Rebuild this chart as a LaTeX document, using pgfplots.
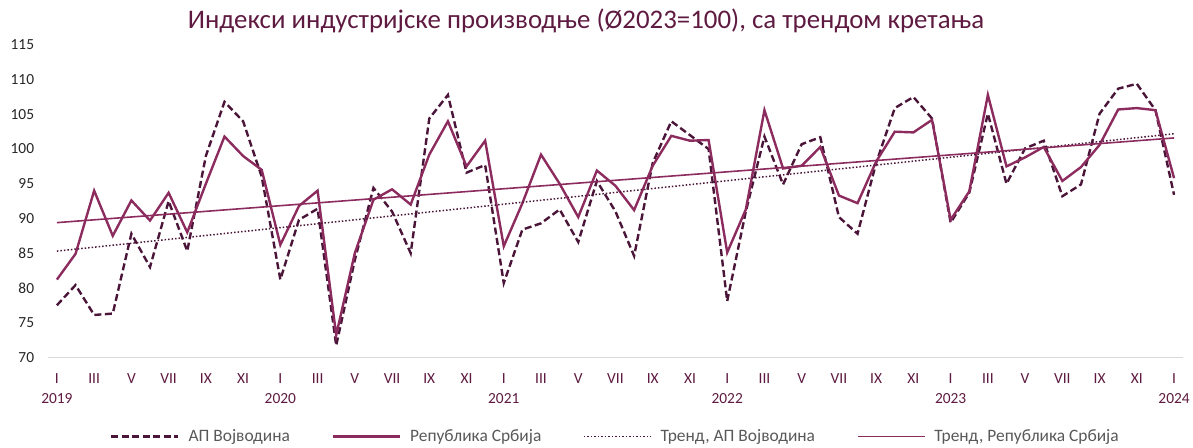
\documentclass[border=0pt]{standalone}
\usepackage{pgfplots}
\pgfplotsset{compat=1.18}
\usepackage{fontspec}
\setmainfont{Carlito}
\definecolor{vojc}{HTML}{4A1538}
\definecolor{srbc}{HTML}{8C2B5E}
\definecolor{titc}{HTML}{5E1A40}
\definecolor{xlab}{HTML}{5E1A40}
\definecolor{legt}{HTML}{595959}
\definecolor{axl}{HTML}{D9D9D9}
\begin{document}
\begin{tikzpicture}
\begin{axis}[
  scale only axis, width=1138bp, height=313bp,
  xmin=-0.5, xmax=60.5, ymin=70, ymax=115,
  clip=false,
  axis x line*=bottom, axis y line*=left,
  x axis line style={-, draw=axl, line width=1.5bp},
  y axis line style={draw=none},
  major tick length=0,
  ytick={70,75,...,115},
  xtick={0,2,...,60},
  xticklabels={{I\\2019},III,V,VII,IX,XI,{I\\2020},III,V,VII,IX,XI,{I\\2021},III,V,VII,IX,XI,{I\\2022},III,V,VII,IX,XI,{I\\2023},III,V,VII,IX,XI,{I\\2024}},
  xticklabel style={align=center, text=xlab, font=\fontsize{15.5}{20}\selectfont, yshift=-13bp},
  yticklabel style={text=black!85, font=\fontsize{15.5}{18}\selectfont, xshift=-10bp},
  /pgf/number format/assume math mode=true,
  legend columns=4,
  legend style={draw=none, at={(0.5,-0.254)}, anchor=center, font=\fontsize{17.5}{20}\selectfont, text=legt,
    /tikz/every even column/.append style={column sep=40bp}},
  legend image code/.code={\draw[#1] (0bp,0bp) -- (67bp,0bp); \path (74bp,0bp);},
]
\addplot[vojc, line width=2.4bp, dash pattern=on 7bp off 3.5bp] coordinates {
(0,77.5)(1,80.4)(2,76.1)(3,76.3)(4,87.8)(5,83.0)(6,92.5)(7,85.3)(8,99.0)(9,106.8)
(10,104.0)(11,96.0)(12,81.2)(13,89.8)(14,91.4)(15,71.7)(16,84.0)(17,94.4)(18,91.0)(19,85.0)
(20,104.4)(21,107.8)(22,96.6)(23,97.7)(24,80.7)(25,88.4)(26,89.3)(27,91.3)(28,86.6)(29,95.4)
(30,91.0)(31,84.6)(32,98.0)(33,104.0)(34,102.0)(35,100.0)(36,78.1)(37,91.0)(38,101.8)(39,94.9)
(40,100.7)(41,101.7)(42,90.2)(43,87.8)(44,98.0)(45,105.9)(46,107.5)(47,104.4)(48,89.4)(49,93.7)
(50,105.1)(51,95.0)(52,100.1)(53,101.2)(54,93.2)(55,94.9)(56,105.1)(57,108.7)(58,109.4)(59,105.6)
(60,93.4)};
\addlegendentry{АП Војводина}
\addplot[srbc, line width=2.4bp] coordinates {
(0,81.2)(1,84.9)(2,94.0)(3,87.5)(4,92.6)(5,89.7)(6,93.7)(7,88.0)(8,95.0)(9,101.8)
(10,99.0)(11,97.0)(12,86.2)(13,91.8)(14,94.0)(15,73.2)(16,85.0)(17,92.7)(18,94.2)(19,92.0)
(20,99.2)(21,104.0)(22,97.5)(23,101.2)(24,86.0)(25,92.2)(26,99.2)(27,95.0)(28,90.2)(29,96.9)
(30,94.7)(31,91.2)(32,97.6)(33,101.9)(34,101.2)(35,101.3)(36,85.1)(37,91.3)(38,105.6)(39,97.2)
(40,97.6)(41,100.3)(42,93.3)(43,92.2)(44,98.2)(45,102.5)(46,102.4)(47,104.2)(48,89.8)(49,93.9)
(50,107.8)(51,97.5)(52,98.8)(53,100.3)(54,95.4)(55,97.4)(56,100.6)(57,105.7)(58,105.9)(59,105.6)
(60,95.8)};
\addlegendentry{Република Србија}
\addplot[vojc, line width=1.5bp, dash pattern=on 1.5bp off 2bp] coordinates {(0,85.3)(60,102.2)};
\addlegendentry{Тренд, АП Војводина}
\addplot[srbc, line width=1.6bp] coordinates {(0,89.4)(60,101.6)};
\addlegendentry{Тренд, Република Србија}
\node[font=\fontsize{27}{30}\selectfont, text=titc] at (rel axis cs:0.474,1.078) {Индекси индустријске производње (Ø2023=100), са трендом кретања};
\end{axis}
\path[use as bounding box] (-47.7bp,-86bp) rectangle (1145.3bp,358bp);
\end{tikzpicture}
\end{document}
